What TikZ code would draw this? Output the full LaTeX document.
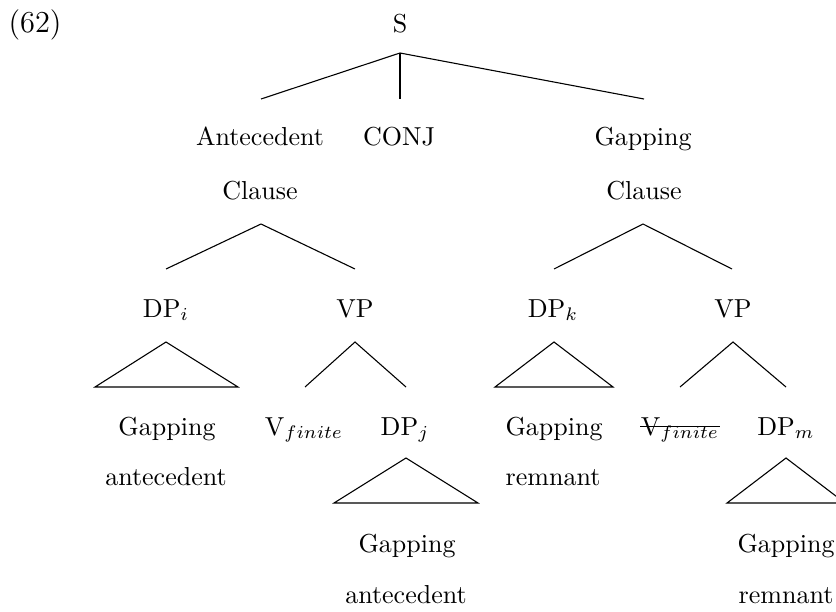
\documentclass[tikz,border=0pt]{standalone}
\begin{document}
\begin{tikzpicture}[x=0.3846pt, y=-0.3846pt,
  lbl/.style={anchor=base, inner sep=0pt},
  branch/.style={line width=0.42pt},
  tri/.style={line width=0.42pt}]
\useasboundingbox (0,0) rectangle (836,611);
\clip (0,0) rectangle (836,611);

% labels, placed on their baselines
\node[lbl, font=\fontsize{11.7}{14}\selectfont] (ex) at (35,33) {(62)};
\node[lbl] (S)    at (400,33)  {S};
\node[lbl] (ac1)  at (260,146) {Antecedent};
\node[lbl] (ac2)  at (260,199) {Clause};
\node[lbl] (conj) at (399,146) {CONJ};
\node[lbl] (gc1)  at (643,146) {Gapping};
\node[lbl] (gc2)  at (644,199) {Clause};

\node[lbl] (dpi)  at (166,317) {DP$_i$};
\node[lbl] (vpa)  at (355,317) {VP};
\node[lbl] (dpk)  at (553,317) {DP$_k$};
\node[lbl] (vpg)  at (733,317) {VP};

\node[lbl] (ga1)  at (167,435) {Gapping};
\node[lbl] (ga2)  at (166,485) {antecedent};
\node[lbl] (vfa)  at (304,435) {V$_{finite}$};
\node[lbl] (dpj)  at (405,435) {DP$_j$};
\node[lbl] (gr1)  at (554,435) {Gapping};
\node[lbl] (gr2)  at (553,485) {remnant};
\node[lbl] (vfg)  at (680,435) {V$_{finite}$};
\node[lbl] (dpm)  at (786,435) {DP$_m$};

\node[lbl] (gj1)  at (407,552) {Gapping};
\node[lbl] (gj2)  at (406,603) {antecedent};
\node[lbl] (gm1)  at (786,552) {Gapping};
\node[lbl] (gm2)  at (786,603) {remnant};

% struck-out verb in the gapping clause
\draw[line width=0.42pt] ([yshift=3.4pt]vfg.base west) -- ([yshift=3.4pt]vfg.base east);

% branch points
\coordinate (s-r)  at (400,53);
\coordinate (s-l)  at (261,99);
\coordinate (s-m)  at (400,99);
\coordinate (s-g)  at (644,99);
\coordinate (ac-r) at (261,224);
\coordinate (ac-l) at (166,269);
\coordinate (ac-v) at (355,269);
\coordinate (gc-r) at (643,224);
\coordinate (gc-l) at (554,269);
\coordinate (gc-v) at (732,269);
\coordinate (va-r) at (355,342);
\coordinate (va-l) at (305,387);
\coordinate (va-d) at (406,387);
\coordinate (vg-r) at (733,342);
\coordinate (vg-l) at (680,387);
\coordinate (vg-d) at (786,387);

\draw[branch] (s-l) -- (s-r) -- (s-g);
\draw[branch] (s-r) -- (s-m);
\draw[branch] (ac-l) -- (ac-r) -- (ac-v);
\draw[branch] (gc-l) -- (gc-r) -- (gc-v);
\draw[branch] (va-l) -- (va-r) -- (va-d);
\draw[branch] (vg-l) -- (vg-r) -- (vg-d);

% roofs over unanalysed phrases
\draw[tri] (166,342) -- (95,387) -- (238,387) -- cycle;
\draw[tri] (554,342) -- (495,387) -- (613,387) -- cycle;
\draw[tri] (406,458) -- (334,503) -- (478,503) -- cycle;
\draw[tri] (786,458) -- (727,503) -- (845,503) -- cycle;
\end{tikzpicture}
\end{document}
